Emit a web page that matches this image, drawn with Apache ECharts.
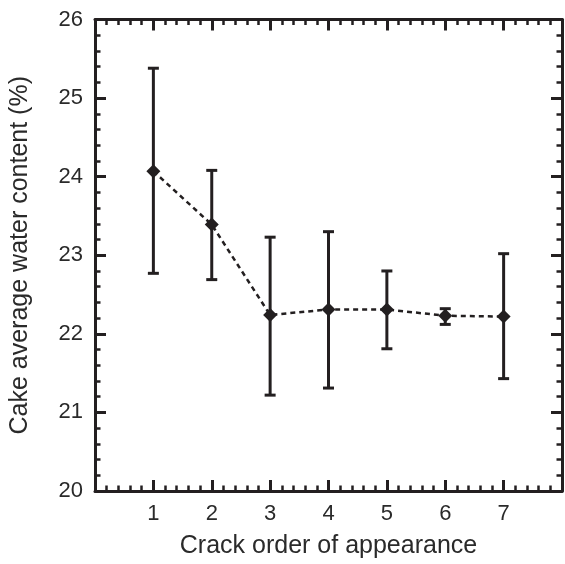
<!DOCTYPE html>
<html>
<head>
<meta charset="utf-8">
<script src="https://cdn.jsdelivr.net/npm/echarts@6/dist/echarts.min.js"></script>
<style>html,body{margin:0;padding:0;background:#fff;}#c{width:565px;height:564px;}</style>
</head>
<body>
<div id="c"></div>
<script>
const crackOrder = [1, 2, 3, 4, 5, 6, 7];
const meanWater = [24.07, 23.39, 22.24, 22.31, 22.31, 22.23, 22.22];
const upperWater = [25.38, 24.08, 23.23, 23.30, 22.80, 22.32, 23.02];
const lowerWater = [22.77, 22.69, 21.22, 21.31, 21.81, 22.12, 21.43];
const xTickLabels = ['1', '2', '3', '4', '5', '6', '7'];
const yTickLabels = ['20', '21', '22', '23', '24', '25', '26'];

const INK = '#231f20';
const TXT = '#2a2a2a';
const FONT = '"Liberation Sans", Arial, sans-serif';

const lineData = crackOrder.map((x, i) => [x, meanWater[i]]);
const errData = crackOrder.map((x, i) => [x, lowerWater[i], upperWater[i]]);

function axisCommon() {
  return {
    axisLine: { show: true, onZero: false, lineStyle: { color: INK, width: 3 } },
    axisTick: { show: true, inside: true, length: 11, lineStyle: { color: INK, width: 3 } },
    minorTick: { show: true, splitNumber: 5, length: 5.5, lineStyle: { color: INK, width: 2.5 } },
    splitLine: { show: false },
    minorSplitLine: { show: false }
  };
}

const chart = echarts.init(document.getElementById('c'), null, { renderer: 'canvas' });
chart.setOption({
  backgroundColor: '#fff',
  animation: false,
  grid: { left: 94, top: 19.5, width: 473, height: 475, containLabel: false },
  xAxis: [
    Object.assign(axisCommon(), {
      type: 'value', min: 0, max: 8, interval: 1, position: 'bottom',
      name: 'Crack order of appearance', nameLocation: 'middle', nameGap: 43,
      nameTextStyle: { fontFamily: FONT, fontSize: 25, color: TXT },
      axisLabel: {
        show: true, margin: 12, fontFamily: FONT, fontSize: 22, color: TXT,
        formatter: v => { const i = crackOrder.indexOf(v); return i >= 0 ? xTickLabels[i] : ''; }
      }
    }),
    Object.assign(axisCommon(), {
      type: 'value', min: 0, max: 8, interval: 1, position: 'top',
      axisLabel: { show: false }
    })
  ],
  yAxis: [
    Object.assign(axisCommon(), {
      type: 'value', min: 20, max: 26, interval: 1, position: 'left',
      name: 'Cake average water content (%)', nameLocation: 'middle', nameGap: 62,
      nameTextStyle: { fontFamily: FONT, fontSize: 25, color: TXT },
      axisLabel: {
        show: true, margin: 12, fontFamily: FONT, fontSize: 22, color: TXT,
        formatter: v => { const i = Math.round(v - 20); return yTickLabels[i] || ''; }
      }
    }),
    Object.assign(axisCommon(), {
      type: 'value', min: 20, max: 26, interval: 1, position: 'right',
      axisLabel: { show: false }
    })
  ],
  series: [
    {
      type: 'custom',
      xAxisIndex: 0, yAxisIndex: 0,
      data: errData,
      z: 2,
      renderItem: function (params, api) {
        const x = api.value(0);
        const lo = api.coord([x, api.value(1)]);
        const hi = api.coord([x, api.value(2)]);
        const hw = 5.5;
        const st = { stroke: INK, lineWidth: 3, fill: null };
        return {
          type: 'group',
          children: [
            { type: 'line', shape: { x1: lo[0], y1: lo[1], x2: hi[0], y2: hi[1] }, style: st },
            { type: 'line', shape: { x1: hi[0] - hw, y1: hi[1], x2: hi[0] + hw, y2: hi[1] }, style: st },
            { type: 'line', shape: { x1: lo[0] - hw, y1: lo[1], x2: lo[0] + hw, y2: lo[1] }, style: st }
          ]
        };
      }
    },
    {
      type: 'line',
      xAxisIndex: 0, yAxisIndex: 0,
      data: lineData,
      z: 3,
      symbol: 'diamond',
      symbolSize: [14, 14],
      itemStyle: { color: INK },
      lineStyle: { color: INK, width: 2.5, type: [5, 4] }
    }
  ]
});
</script>
</body>
</html>
